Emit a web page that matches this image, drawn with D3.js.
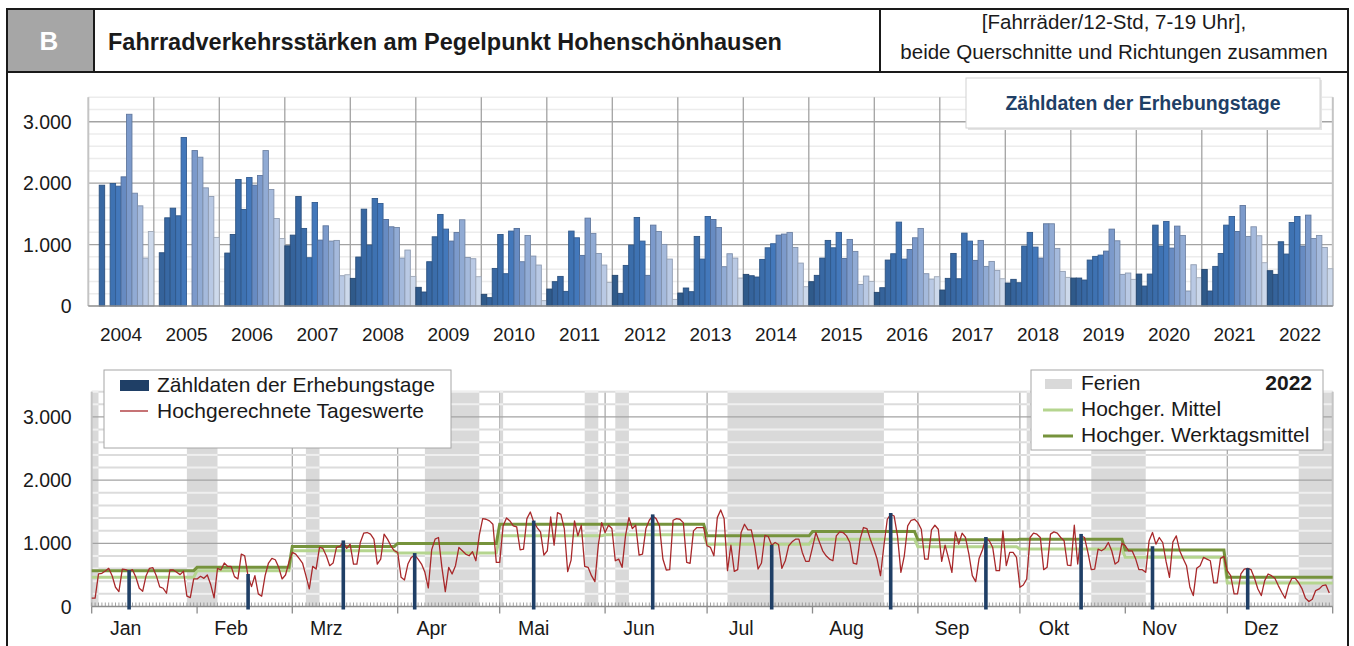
<!DOCTYPE html>
<html><head><meta charset="utf-8">
<script src="https://cdn.jsdelivr.net/npm/d3@7"></script>
<style>
body{margin:0;background:#fff}
svg{display:block}
text{font-family:"Liberation Sans",Arial,Helvetica,sans-serif;fill:#1a1a1a}
</style></head>
<body><svg id="c" width="1354" height="646"></svg>
<script>
// ---------------- DATA ----------------
const years = [2004,2005,2006,2007,2008,2009,2010,2011,2012,2013,2014,2015,2016,2017,2018,2019,2020,2021,2022];
const monthLabels = ["Jan","Feb","Mrz","Apr","Mai","Jun","Jul","Aug","Sep","Okt","Nov","Dez"];
const yTickValues = [0,1000,2000,3000];
const yTickLabels = ["0","1.000","2.000","3.000"];

// monthly counts (Zähldaten der Erhebungstage), Jan..Dez
const v2004 = [null,null,1967,null,1995,1951,2103,3122,1837,1631,780,1214];
const v2005 = [null,867,1436,1593,1469,2743,null,2531,2423,1924,1783,1117];
const v2006 = [null,862,1165,2060,1572,2092,1967,2125,2531,1897,1425,1100];
const v2007 = [980,1154,1783,1263,786,1686,1073,1306,1057,1068,493,509];
const v2008 = [450,797,1577,992,1751,1669,1409,1290,1279,780,911,482];
const v2009 = [304,228,721,1127,1491,1252,1057,1198,1404,791,770,477];
const v2010 = [190,136,612,1165,526,1220,1263,721,1149,813,667,87];
const v2011 = [276,396,482,238,1220,1111,824,1431,1182,856,667,385];
const v2012 = [499,206,661,992,1442,1057,499,1317,1214,1003,764,108];
const v2013 = [211,293,233,1133,764,1458,1409,1279,640,851,780,455];
const v2014 = [515,493,472,759,948,1014,1154,1171,1198,954,699,314];
const v2015 = [396,499,780,1068,948,1198,775,1084,889,352,488,401];
const v2016 = [222,298,748,851,1366,764,921,1111,1263,526,439,477];
const v2017 = [260,450,856,444,1187,1057,743,1068,645,726,580,444];
const v2018 = [374,434,379,976,1198,959,780,1339,1339,938,564,466];
const v2019 = [455,455,423,748,808,829,894,1252,1062,515,537,434];
const v2020 = [520,325,520,1317,976,1377,943,1301,1149,244,672,461];
const v2021 = [596,244,645,856,1317,1458,1214,1637,1133,1290,1144,705];
const v2022 = [575,515,1046,846,1360,1458,976,1480,1100,1149,954,607];

// 2022: survey days
const zaehlDates = ["2022-01-12","2022-02-16","2022-03-16","2022-04-06","2022-05-11","2022-06-15",
                    "2022-07-20","2022-08-24","2022-09-21","2022-10-19","2022-11-09","2022-12-07"];
const zaehlValues = v2022;

// 2022: projected daily values (Hochgerechnete Tageswerte)
const daysJan = [131,131,515,525,562,604,488,305,236,593,583,557,583,462,289,242,488,604,614,488,310,289,210,578,578,541,504,557,163,142,436];
const daysFeb = [436,478,446,499,347,137,604,578,688,635,635,473,436,829,803,478,315,488,200,163,488,688,761,740,620,436,499,698];
const daysMar = [856,830,761,688,488,278,635,593,935,919,803,646,688,935,950,1024,919,987,672,672,1013,1160,1171,1145,1066,672,751,1145,1066,961,882];
const daysApr = [856,462,420,672,777,814,751,672,541,294,898,1066,1092,620,236,620,515,646,935,882,830,803,866,724,1129,1391,1381,1355,1302,698];
const daysMay = [698,1276,1402,1355,1276,1260,898,908,1391,1496,1339,1250,1181,814,882,1417,971,1486,1459,1234,551,735,1355,1118,1286,635,620,488,394,971,1328];
const daysJun = [1171,1286,1234,724,751,620,1118,1407,1234,1286,814,830,1234,1365,1433,1391,1276,751,578,583,1365,1391,1381,1328,698,683,1197,1250,1250,1250];
const daysJul = [961,935,803,1407,1528,1391,567,971,557,583,1171,1302,1213,1213,961,593,688,1124,1108,971,1013,982,604,724,961,1024,1066,1066,856,714,714];
const daysAug = [935,1171,1024,882,803,751,724,1118,1181,1171,1118,1013,688,672,1066,1250,1234,1066,919,751,488,961,1381,1460,1433,1118,541,803,1276,1365,1381];
const daysSep = [1328,1223,751,751,1213,1286,1223,714,971,767,541,1181,987,1160,1092,830,488,394,761,898,1076,1040,935,567,567,1197,646,856,856,777];
const daysOct = [305,341,436,1092,1160,1145,1092,583,620,1145,1181,1160,1092,1040,656,646,1286,672,1118,1092,856,583,593,908,882,919,1013,882,672,714,1003];
const daysNov = [961,882,882,761,583,583,541,1040,1171,987,1092,1013,709,462,1024,1118,882,761,646,305,173,604,646,777,751,724,373,373,761,793];
const daysDec = [567,488,200,200,515,593,604,583,446,278,173,410,515,488,446,331,226,131,331,446,446,373,278,131,79,116,252,278,331,341,215];

// monthly means 2022
const werktagsMittel = [567,620,951,998,1302,1302,1118,1187,1055,1066,893,463];
const hochgerMittel  = [463,567,882,846,1118,1134,987,1066,945,909,778,373];

// holidays (start inclusive, end exclusive)
const ferienStart = ["2022-01-01","2022-01-29","2022-03-05","2022-04-09","2022-05-01","2022-05-26","2022-06-04","2022-07-07","2022-10-03","2022-10-22","2022-12-22"];
const ferienEnd   = ["2022-01-03","2022-02-07","2022-03-09","2022-04-25","2022-05-02","2022-05-30","2022-06-08","2022-08-22","2022-10-04","2022-11-07","2023-01-01"];

// ---------------- DRAW ----------------
const svg = d3.select("#c");
const monthColors = ["#2f5a8a","#35639b","#3868a3","#3b6daa","#3e72b2","#4378bb","#678bc2","#7c9acb","#91abd4","#a5badc","#b9c9e4","#cdd9eb"];
const gridMajor = "#a3a3a3";
const parse = d3.utcParse("%Y-%m-%d");

// ---- Header ----
const H = svg.append("g");
H.append("rect").attr("x",7).attr("y",9).attr("width",87).attr("height",62).attr("fill","#a6a6a6");
H.append("rect").attr("x",7).attr("y",9).attr("width",1341).attr("height",63).attr("fill","none").attr("stroke","#1a1a1a").attr("stroke-width",2);
H.append("line").attr("x1",94).attr("x2",94).attr("y1",9).attr("y2",72).attr("stroke","#1a1a1a").attr("stroke-width",2);
H.append("line").attr("x1",880).attr("x2",880).attr("y1",9).attr("y2",72).attr("stroke","#1a1a1a").attr("stroke-width",2);
H.append("text").attr("x",49).attr("y",50).attr("text-anchor","middle").attr("font-size",26).attr("font-weight","bold").style("fill","#fff").text("B");
H.append("text").attr("x",108).attr("y",50).attr("font-size",23.5).attr("font-weight","bold").text("Fahrradverkehrsstärken am Pegelpunkt Hohenschönhausen");
H.append("text").attr("x",1114).attr("y",29).attr("text-anchor","middle").attr("font-size",20.5).text("[Fahrräder/12-Std, 7-19 Uhr],");
H.append("text").attr("x",1114).attr("y",59).attr("text-anchor","middle").attr("font-size",20.5).text("beide Querschnitte und Richtungen zusammen");
svg.append("line").attr("x1",7).attr("x2",7).attr("y1",9).attr("y2",646).attr("stroke","#1a1a1a").attr("stroke-width",2);
svg.append("line").attr("x1",1348).attr("x2",1348).attr("y1",9).attr("y2",646).attr("stroke","#1a1a1a").attr("stroke-width",2);

// ---- Top chart ----
const T = {x0:88.3, x1:1332.8, y0:306, y1:97.2};
const yTop = d3.scaleLinear().domain([0,3400]).range([T.y0,T.y1]);
const xYear = d3.scaleBand().domain(years).range([T.x0,T.x1]).padding(0);
const xMon = d3.scaleBand().domain(d3.range(12)).range([0,xYear.bandwidth()]).padding(0);
const monthly = [v2004,v2005,v2006,v2007,v2008,v2009,v2010,v2011,v2012,v2013,v2014,v2015,v2016,v2017,v2018,v2019,v2020,v2021,v2022];
const gT = svg.append("g");
const minorVals = d3.range(200,3401,200).filter(v=>v%1000!==0);
gT.selectAll(".mn").data(minorVals).join("line")
  .attr("x1",T.x0).attr("x2",T.x1).attr("y1",d=>yTop(d)).attr("y2",d=>yTop(d))
  .attr("stroke","#ececec").attr("stroke-width",1.5);
gT.selectAll(".mj").data([1000,2000,3000]).join("line")
  .attr("x1",T.x0).attr("x2",T.x1).attr("y1",d=>yTop(d)).attr("y2",d=>yTop(d))
  .attr("stroke",gridMajor).attr("stroke-width",1.3);
gT.selectAll(".yl").data(years.slice(1)).join("line")
  .attr("x1",d=>xYear(d)).attr("x2",d=>xYear(d)).attr("y1",T.y1).attr("y2",T.y0)
  .attr("stroke",gridMajor).attr("stroke-width",1.3);
gT.append("line").attr("x1",T.x0).attr("x2",T.x0).attr("y1",T.y1).attr("y2",T.y0).attr("stroke","#c4c4c4").attr("stroke-width",2);
gT.append("line").attr("x1",T.x1).attr("x2",T.x1).attr("y1",T.y1).attr("y2",T.y0).attr("stroke","#c4c4c4").attr("stroke-width",2);

const barData = [];
years.forEach((y,i)=>monthly[i].forEach((v,m)=>{ if(v!=null) barData.push({y,m,v}); }));
gT.selectAll(".bar").data(barData).join("rect")
  .attr("x",d=>xYear(d.y)+xMon(d.m))
  .attr("width",xMon.bandwidth())
  .attr("y",d=>yTop(d.v))
  .attr("height",d=>yTop(0)-yTop(d.v))
  .attr("fill",d=>monthColors[d.m])
  .attr("stroke",d=>d3.color(monthColors[d.m]).darker(0.7))
  .attr("stroke-width",0.9);
gT.append("line").attr("x1",T.x0).attr("x2",T.x1).attr("y1",T.y0).attr("y2",T.y0).attr("stroke","#8c8c8c").attr("stroke-width",1.3);
gT.selectAll(".ytl").data(yTickValues).join("text")
  .attr("x",71.7).attr("y",d=>yTop(d)).attr("dy","0.36em").attr("text-anchor","end")
  .attr("font-size",19.5).text((d,i)=>yTickLabels[i]);
gT.selectAll(".xl").data(years).join("text")
  .attr("x",d=>xYear(d)+xYear.bandwidth()/2).attr("y",341).attr("text-anchor","middle")
  .attr("font-size",19).text(d=>d);
gT.append("rect").attr("x",968).attr("y",80).attr("width",354).attr("height",50).attr("fill","#e4e4e4");
gT.append("rect").attr("x",966).attr("y",78).attr("width",354).attr("height",50).attr("fill","#fff").attr("stroke","#d2d2d2").attr("stroke-width",1);
gT.append("text").attr("x",1143).attr("y",110).attr("text-anchor","middle").attr("font-size",19.5)
  .attr("font-weight","bold").style("fill","#1f3f66").text("Zähldaten der Erhebungstage");

// ---- Bottom chart ----
const B = {x0:91.7, x1:1332.7, y0:606.5, y1:391.7};
const start = Date.UTC(2022,0,1), end = Date.UTC(2023,0,1);
const xDay = d3.scaleUtc().domain([start,end]).range([B.x0,B.x1]);
const yBot = d3.scaleLinear().domain([0,3400]).range([B.y0,B.y1]);
const days = d3.utcDay.range(new Date(start), new Date(end));
const dailyVals = [].concat(daysJan,daysFeb,daysMar,daysApr,daysMay,daysJun,daysJul,daysAug,daysSep,daysOct,daysNov,daysDec);
const monthStarts = d3.utcMonth.range(new Date(start), new Date(end));
const gB = svg.append("g");

gB.selectAll(".ml").data(monthStarts.slice(1)).join("line")
  .attr("x1",d=>xDay(d)).attr("x2",d=>xDay(d)).attr("y1",B.y1).attr("y2",B.y0)
  .attr("stroke",gridMajor).attr("stroke-width",1.2);
const ferien = ferienStart.map((s,i)=>({s:parse(s),e:parse(ferienEnd[i])}));
gB.selectAll(".fer").data(ferien).join("rect")
  .attr("x",d=>xDay(d.s)).attr("width",d=>xDay(d.e)-xDay(d.s))
  .attr("y",B.y1).attr("height",B.y0-B.y1).attr("fill","#d9d9d9");
gB.selectAll(".bmn").data(minorVals).join("line")
  .attr("x1",B.x0).attr("x2",B.x1).attr("y1",d=>yBot(d)).attr("y2",d=>yBot(d))
  .attr("stroke","#dcdcdc").attr("stroke-width",2);
ferien.forEach(f=>{
  gB.append("g").selectAll("line").data(minorVals).join("line")
    .attr("x1",xDay(f.s)).attr("x2",xDay(f.e)).attr("y1",d=>yBot(d)).attr("y2",d=>yBot(d))
    .attr("stroke","#efefef").attr("stroke-width",2);
});
gB.selectAll(".bmj").data([1000,2000,3000]).join("line")
  .attr("x1",B.x0).attr("x2",B.x1).attr("y1",d=>yBot(d)).attr("y2",d=>yBot(d))
  .attr("stroke",gridMajor).attr("stroke-width",1.3);
gB.append("line").attr("x1",B.x0).attr("x2",B.x0).attr("y1",B.y1).attr("y2",B.y0).attr("stroke","#c4c4c4").attr("stroke-width",2);
gB.append("line").attr("x1",B.x1).attr("x2",B.x1).attr("y1",B.y1).attr("y2",B.y0).attr("stroke","#c4c4c4").attr("stroke-width",2);
gB.append("g").selectAll("line").data(days).join("line")
  .attr("x1",d=>xDay(d)).attr("x2",d=>xDay(d)).attr("y1",B.y0-4).attr("y2",B.y0)
  .attr("stroke","#8c8c8c").attr("stroke-width",0.8);
gB.append("line").attr("x1",B.x0).attr("x2",B.x1).attr("y1",B.y0).attr("y2",B.y0).attr("stroke","#8c8c8c").attr("stroke-width",1.3);
gB.append("g").selectAll("line").data(monthStarts.concat([new Date(end)])).join("line")
  .attr("x1",d=>xDay(d)).attr("x2",d=>xDay(d)).attr("y1",B.y0).attr("y2",B.y0+7)
  .attr("stroke","#8c8c8c").attr("stroke-width",1.3);
gB.append("g").selectAll("text").data(monthStarts).join("text")
  .attr("x",d=>xDay(d3.utcDay.offset(d,10))).attr("y",635).attr("text-anchor","middle")
  .attr("font-size",19.5).text((d,i)=>monthLabels[i]);
gB.append("g").selectAll("text").data(yTickValues).join("text")
  .attr("x",71.7).attr("y",d=>yBot(d)).attr("dy","0.36em").attr("text-anchor","end")
  .attr("font-size",19.5).text((d,i)=>yTickLabels[i]);

function stepPoints(vals){
  const pts = days.map(d=>({d, v: vals[d.getUTCMonth()]}));
  pts.push({d:new Date(end), v: vals[11]});
  return pts;
}
const lineGen = d3.line().x(p=>xDay(p.d)).y(p=>yBot(p.v));
gB.append("path").attr("d",lineGen(stepPoints(hochgerMittel))).attr("fill","none").attr("stroke","#b5d58f").attr("stroke-width",3);
gB.append("path").attr("d",lineGen(stepPoints(werktagsMittel))).attr("fill","none").attr("stroke","#76933c").attr("stroke-width",3);
const dailyPts = days.map((d,i)=>({d, v: dailyVals[i]}));
gB.append("path").attr("d",lineGen(dailyPts)).attr("fill","none").attr("stroke","#a8282a").attr("stroke-width",1.3).attr("stroke-linejoin","round");
gB.append("g").selectAll("rect").data(zaehlDates.map((s,i)=>({d:parse(s), v:zaehlValues[i]}))).join("rect")
  .attr("x",d=>xDay(d.d)-1.8).attr("width",3.6)
  .attr("y",d=>yBot(d.v)).attr("height",d=>B.y0+3-yBot(d.v))
  .attr("fill","#1f3f66");

const L1 = gB.append("g");
L1.append("rect").attr("x",104).attr("y",370).attr("width",347).attr("height",78).attr("fill","#fff").attr("stroke","#a6a6a6").attr("stroke-width",1);
L1.append("rect").attr("x",120).attr("y",380).attr("width",29).attr("height",11).attr("fill","#1f3f66");
L1.append("text").attr("x",157).attr("y",392).attr("font-size",21).text("Zähldaten der Erhebungstage");
L1.append("line").attr("x1",120).attr("x2",148).attr("y1",411).attr("y2",411).attr("stroke","#a8282a").attr("stroke-width",1.3);
L1.append("text").attr("x",157).attr("y",417.5).attr("font-size",21).text("Hochgerechnete Tageswerte");

const L2 = gB.append("g");
L2.append("rect").attr("x",1031).attr("y",370).attr("width",292).attr("height",80).attr("fill","#fff").attr("stroke","#a6a6a6").attr("stroke-width",1);
L2.append("rect").attr("x",1045).attr("y",379).attr("width",27).attr("height",10).attr("fill","#d9d9d9");
L2.append("text").attr("x",1081).attr("y",390).attr("font-size",21).text("Ferien");
L2.append("text").attr("x",1312).attr("y",390).attr("text-anchor","end").attr("font-size",21).attr("font-weight","bold").text("2022");
L2.append("line").attr("x1",1043).attr("x2",1073).attr("y1",410).attr("y2",410).attr("stroke","#b5d58f").attr("stroke-width",3);
L2.append("text").attr("x",1081).attr("y",416).attr("font-size",21).text("Hochger. Mittel");
L2.append("line").attr("x1",1043).attr("x2",1073).attr("y1",436).attr("y2",436).attr("stroke","#76933c").attr("stroke-width",3);
L2.append("text").attr("x",1081).attr("y",442).attr("font-size",21).text("Hochger. Werktagsmittel");
</script></body></html>
